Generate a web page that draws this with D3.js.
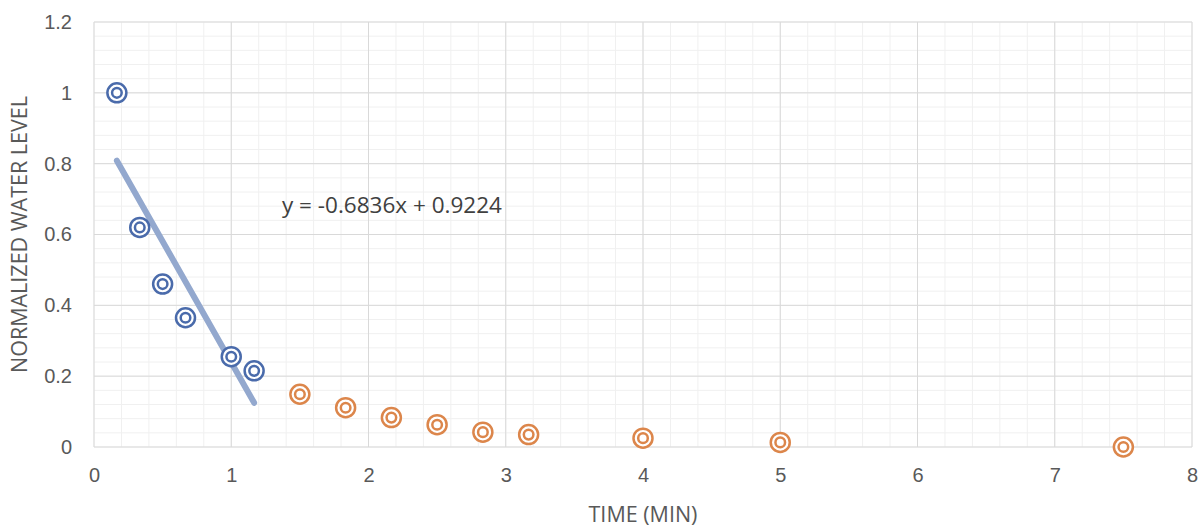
<!DOCTYPE html>
<html>
<head>
<meta charset="utf-8">
<script src="https://cdn.jsdelivr.net/npm/d3@7"></script>
<style>
  body { margin: 0; background: #fff; }
  svg { display: block; font-family: "Open Sans", "Liberation Sans", sans-serif; }
</style>
</head>
<body>
<svg id="chart"></svg>
<script>
// data
const fitTimes = [0.1667, 0.3333, 0.5, 0.6667, 1.0, 1.1667];
const fitLevels = [1.0, 0.62, 0.46, 0.365, 0.255, 0.215];
const tailTimes = [1.5, 1.8333, 2.1667, 2.5, 2.8333, 3.1667, 4, 5, 7.5];
const tailLevels = [0.149, 0.111, 0.083, 0.063, 0.042, 0.035, 0.025, 0.013, 0.0];
const trend = {slope: -0.6836, intercept: 0.9224};
const xTicks = [0, 1, 2, 3, 4, 5, 6, 7, 8];
const yTicks = [0, 0.2, 0.4, 0.6, 0.8, 1, 1.2];

const width = 1202, height = 527;
const margin = {top: 22, right: 10, bottom: 80, left: 94};

const svg = d3.select('#chart')
    .attr('width', width)
    .attr('height', height);

const x = d3.scaleLinear().domain([0, 8]).range([margin.left, width - margin.right]);
const y = d3.scaleLinear().domain([0, 1.2]).range([height - margin.bottom, margin.top]);

// minor grid
const g = svg.append('g');
g.selectAll('.xminor')
  .data(d3.range(0, 8.001, 0.2))
  .join('line')
    .attr('x1', d => x(d)).attr('x2', d => x(d))
    .attr('y1', y(0)).attr('y2', y(1.2))
    .attr('stroke', '#f0f0f0').attr('stroke-width', 1);
g.selectAll('.yminor')
  .data(d3.range(0, 1.2001, 0.04))
  .join('line')
    .attr('x1', x(0)).attr('x2', x(8))
    .attr('y1', d => y(d)).attr('y2', d => y(d))
    .attr('stroke', '#f0f0f0').attr('stroke-width', 1);

// major grid
g.append('g').selectAll('line')
  .data(xTicks)
  .join('line')
    .attr('x1', d => x(d)).attr('x2', d => x(d))
    .attr('y1', y(0)).attr('y2', y(1.2))
    .attr('stroke', '#d9d9d9').attr('stroke-width', 1);
g.append('g').selectAll('line')
  .data(yTicks)
  .join('line')
    .attr('x1', x(0)).attr('x2', x(8))
    .attr('y1', d => y(d)).attr('y2', d => y(d))
    .attr('stroke', '#d9d9d9').attr('stroke-width', 1);

// axes labels
const xAxis = svg.append('g')
    .attr('transform', `translate(0,${y(0)})`)
    .call(d3.axisBottom(x).tickValues(xTicks).tickSize(0).tickPadding(21).tickFormat(d3.format('d')));
const yAxis = svg.append('g')
    .attr('transform', `translate(${x(0)},0)`)
    .call(d3.axisLeft(y).tickValues(yTicks).tickSize(0).tickPadding(22).tickFormat(d => d3.format('')(d)));
[xAxis, yAxis].forEach(a => {
  a.select('.domain').remove();
  a.selectAll('text').attr('fill', '#595959').style('font-size', '20px');
});

// axis titles
svg.append('text')
    .attr('x', (x(0) + x(8)) / 2)
    .attr('y', 522)
    .attr('text-anchor', 'middle')
    .attr('fill', '#595959')
    .style('font-size', '21.5px')
    .text('TIME (MIN)');
svg.append('text')
    .attr('transform', `translate(27,${(y(0) + y(1.2)) / 2}) rotate(-90)`)
    .attr('text-anchor', 'middle')
    .attr('fill', '#595959')
    .style('font-size', '21.5px')
    .text('NORMALIZED WATER LEVEL');

// trendline
const x0 = d3.min(fitTimes), x1 = d3.max(fitTimes);
svg.append('line')
    .attr('x1', x(x0)).attr('y1', y(trend.slope * x0 + trend.intercept))
    .attr('x2', x(x1)).attr('y2', y(trend.slope * x1 + trend.intercept))
    .attr('stroke', '#93a8ce')
    .attr('stroke-width', 6)
    .attr('stroke-linecap', 'round');

svg.append('text')
    .attr('x', 282)
    .attr('y', 213)
    .attr('fill', '#404040')
    .style('font-size', '22.5px')
    .text('y = -0.6836x + 0.9224');

// markers
function drawMarkers(xs, ys, color) {
  const pts = xs.map((t, i) => ({t, v: ys[i]}));
  const m = svg.append('g').selectAll('g')
    .data(pts)
    .join('g')
      .attr('transform', d => `translate(${x(d.t)},${y(d.v)})`);
  m.append('circle').attr('r', 9.5).attr('fill', '#fff').attr('stroke', color).attr('stroke-width', 2.5);
  m.append('circle').attr('r', 4.8).attr('fill', 'none').attr('stroke', color).attr('stroke-width', 2.5);
}
drawMarkers(fitTimes, fitLevels, '#4a6bab');
drawMarkers(tailTimes, tailLevels, '#dc864b');
</script>
</body>
</html>
